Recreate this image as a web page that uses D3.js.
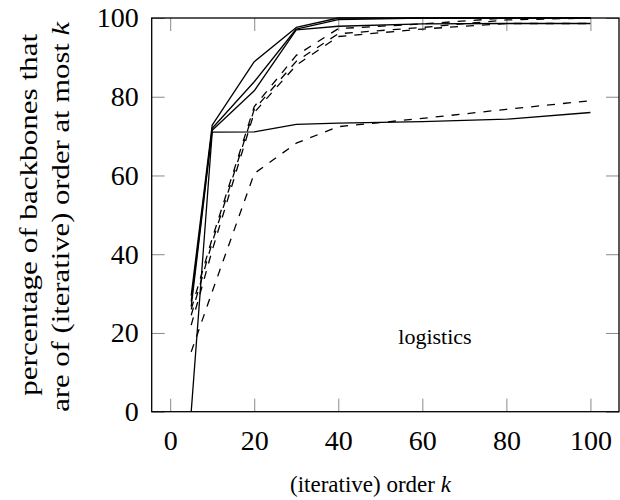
<!DOCTYPE html>
<html>
<head>
<meta charset="utf-8">
<script src="https://cdn.jsdelivr.net/npm/d3@7"></script>
<style>
  body { margin: 0; background: #fff; }
  svg { display: block; }
</style>
</head>
<body>
<div id="chart"></div>
<script>
// order k on the x axis
const orders = [5, 10, 20, 30, 40, 60, 80, 100];

// solid curves
const solidA = [29.5, 72.8, 88.9, 97.6, 100, 100, 100, 100];
const solidB = [28, 72, 83.8, 97.2, 99.6, 100, 100, 100];
const solidC = [26.7, 71.5, 81.5, 97.0, 97.9, 98.5, 98.6, 98.6];
const solidD = [0, 71, 71.1, 73, 73.3, 73.7, 74.3, 76];

// dashed curves
const dashedE = [26, 44, 77.5, 90.5, 97.3, 98.5, 100, 100];
const dashedF = [24.5, 43, 76.8, 89, 96, 97.6, 99.5, 100];
const dashedG = [22, 41, 76, 88, 95.3, 97.2, 98.6, 98.6];
const dashedH = [15.2, 30.5, 60.5, 68.2, 72.4, 74.5, 76.8, 79];

const xTicks = [0, 20, 40, 60, 80, 100];
const yTicks = [0, 20, 40, 60, 80, 100];

const width = 620, height = 500;
const margin = { top: 18, right: 1, bottom: 88.3, left: 151.7 };

const svg = d3.select("#chart")
  .append("svg")
  .attr("width", width)
  .attr("height", height);

const x = d3.scaleLinear()
  .domain([-4.4, 106.8])
  .range([margin.left, width - margin.right]);

const y = d3.scaleLinear()
  .domain([0, 100])
  .range([height - margin.bottom, margin.top]);

const font = "'Liberation Serif', 'Times New Roman', serif";

// axes: ticks point inward, labels only bottom and left
function styleAxis(g) {
  g.select(".domain").remove();
  g.selectAll(".tick line").attr("stroke", "#8a8a8a").attr("stroke-width", 1);
  g.selectAll(".tick text")
    .attr("fill", "#000")
    .style("font-family", font)
    .style("font-size", "28px");
}

svg.append("g")
  .attr("transform", `translate(0,${y(0)})`)
  .call(d3.axisBottom(x).tickValues(xTicks).tickSizeInner(-13).tickSizeOuter(0).tickPadding(18))
  .call(styleAxis);

svg.append("g")
  .attr("transform", `translate(0,${y(100)})`)
  .call(d3.axisTop(x).tickValues(xTicks).tickSizeInner(-13).tickSizeOuter(0).tickFormat(""))
  .call(styleAxis);

svg.append("g")
  .attr("transform", `translate(${x.range()[0]},0)`)
  .call(d3.axisLeft(y).tickValues(yTicks).tickSizeInner(-13).tickSizeOuter(0).tickPadding(13))
  .call(styleAxis);

svg.append("g")
  .attr("transform", `translate(${x.range()[1]},0)`)
  .call(d3.axisRight(y).tickValues(yTicks).tickSizeInner(-13).tickSizeOuter(0).tickFormat(""))
  .call(styleAxis);

// the curves
const line = d3.line()
  .x((d) => x(d[0]))
  .y((d) => y(d[1]));

const series = [
  { values: solidD, dashed: false },
  { values: solidC, dashed: false },
  { values: solidB, dashed: false },
  { values: solidA, dashed: false },
  { values: dashedH, dashed: true },
  { values: dashedG, dashed: true },
  { values: dashedF, dashed: true },
  { values: dashedE, dashed: true },
];

svg.append("g")
  .selectAll("path")
  .data(series)
  .enter()
  .append("path")
  .attr("d", (s) => line(orders.map((k, i) => [k, s.values[i]])))
  .attr("fill", "none")
  .attr("stroke", "#000")
  .attr("stroke-width", 1.3)
  .attr("stroke-linejoin", "round")
  .attr("stroke-dasharray", (s) => (s.dashed ? "8,8" : null));

// frame
svg.append("rect")
  .attr("x", x.range()[0])
  .attr("y", y(100))
  .attr("width", x.range()[1] - x.range()[0])
  .attr("height", y(0) - y(100))
  .attr("fill", "none")
  .attr("stroke", "#000")
  .attr("stroke-width", 1.3);

// annotation
svg.append("text")
  .attr("x", x(63))
  .attr("y", y(17.2))
  .attr("text-anchor", "middle")
  .style("font-family", font)
  .style("font-size", "22px")
  .text("logistics");

// axis titles
const xLabel = svg.append("text")
  .attr("x", 370.5)
  .attr("y", 492)
  .attr("text-anchor", "middle")
  .style("font-family", font)
  .style("font-size", "23px");
xLabel.append("tspan").text("(iterative) order ");
xLabel.append("tspan").style("font-style", "italic").text("k");

const yMid = (y(0) + y(100)) / 2;
const yLabel = svg.append("g")
  .attr("transform", `translate(0,${yMid}) rotate(-90)`)
  .style("font-family", font)
  .style("font-size", "25px");

// stretched along the baseline to the length seen in the reference
yLabel.append("text")
  .attr("x", 0)
  .attr("y", 37)
  .attr("text-anchor", "middle")
  .attr("textLength", 362)
  .attr("lengthAdjust", "spacingAndGlyphs")
  .text("percentage of backbones that");

const l2 = yLabel.append("text")
  .attr("x", -2)
  .attr("y", 69)
  .attr("text-anchor", "middle")
  .attr("textLength", 390)
  .attr("lengthAdjust", "spacingAndGlyphs");
l2.append("tspan").text("are of (iterative) order at most ");
l2.append("tspan").style("font-style", "italic").text("k");
</script>
</body>
</html>
